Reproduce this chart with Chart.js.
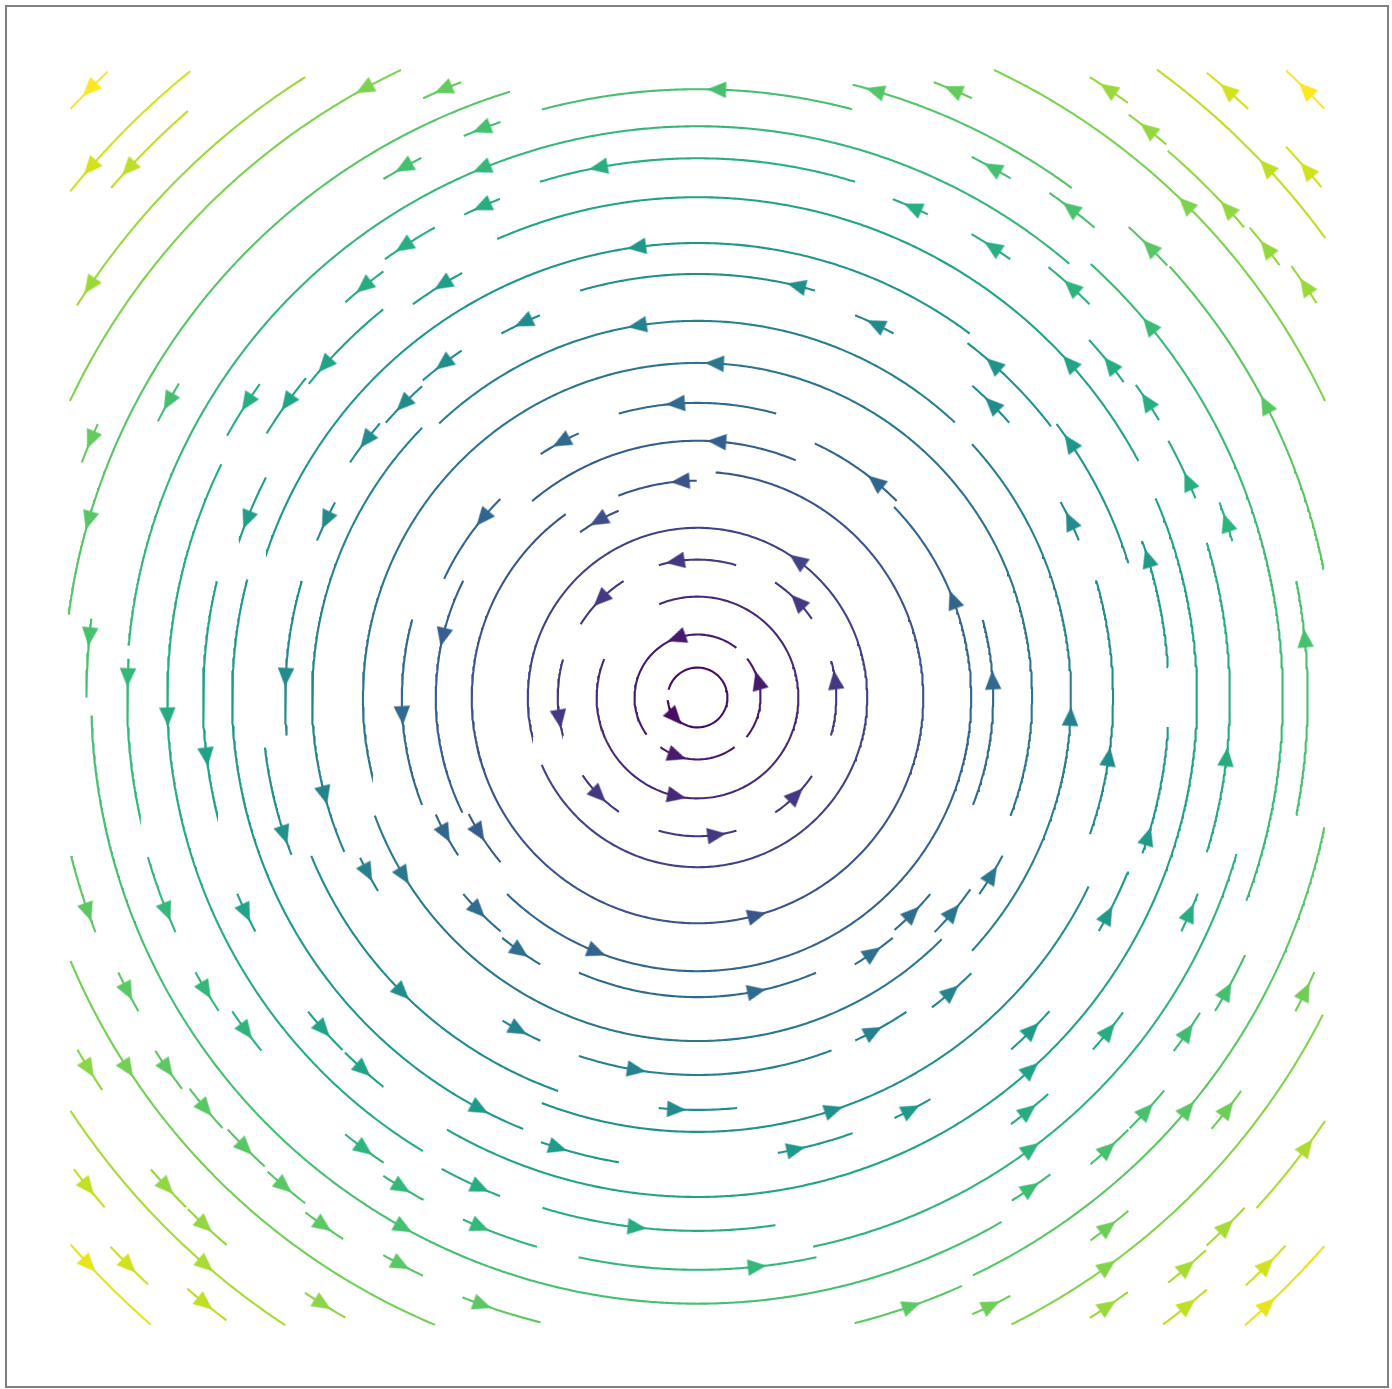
<!DOCTYPE html>
<html>
<head>
<meta charset="utf-8">
<script src="https://cdn.jsdelivr.net/npm/chart.js@4.4.1/dist/chart.umd.min.js"></script>
<style>
  html, body { margin: 0; padding: 0; background: #ffffff; }
  #wrap { width: 1392px; height: 1389px; }
</style>
</head>
<body>
<div id="wrap"><canvas id="stream" width="1392" height="1389"></canvas></div>
<script>
// Streamlines of the rotating field u = -y, v = x on the square [-3, 3] x [-3, 3].
// Every streamline is a circular arc around the origin: its radius, the angles
// (degrees, counter-clockwise from +x) where it starts and ends, and the angle
// where its arrowhead sits. Colour follows the speed, which equals the radius.
const radius = [
  0.143, 0.301, 0.296, 0.301, 0.482, 0.659, 0.659, 0.668, 0.663, 0.663,
  0.663, 0.663, 0.663, 0.811, 0.969, 1.036, 1.079, 1.227, 1.251, 1.227,
  1.308, 1.308, 1.337, 1.337, 1.370, 1.384, 1.408, 1.413, 1.413, 1.432,
  1.461, 1.456, 1.480, 1.480, 1.594, 1.599, 1.642, 1.642, 1.785, 1.785,
  1.800, 1.804, 1.804, 1.804, 1.842, 1.857, 1.967, 1.971, 1.971, 1.971,
  1.976, 1.976, 1.986, 1.986, 1.986, 1.995, 2.005, 2.005, 2.024, 2.076,
  2.081, 2.129, 2.157, 2.172, 2.210, 2.219, 2.219, 2.224, 2.253, 2.253,
  2.253, 2.253, 2.315, 2.320, 2.363, 2.387, 2.387, 2.391, 2.391, 2.391,
  2.391, 2.415, 2.530, 2.530, 2.530, 2.534, 2.534, 2.544, 2.549, 2.558,
  2.563, 2.563, 2.563, 2.568, 2.573, 2.573, 2.573, 2.573, 2.577, 2.654,
  2.663, 2.682, 2.682, 2.682, 2.725, 2.730, 2.735, 2.735, 2.735, 2.735,
  2.735, 2.797, 2.835, 2.835, 2.892, 2.897, 2.897, 2.897, 2.897, 2.907,
  2.907, 2.916, 2.916, 2.916, 2.921, 2.940, 3.031, 3.021, 3.055, 3.050,
  3.059, 3.059, 3.064, 3.093, 3.064, 3.050, 3.059, 3.093, 3.079, 3.083,
  3.088, 3.150, 3.150, 3.150, 3.203, 3.207, 3.227, 3.227, 3.250, 3.317,
  3.317, 3.351, 3.408, 3.408, 3.446, 3.451, 3.451, 3.465, 3.465, 3.508,
  3.508, 3.508, 3.508, 3.575, 3.589, 3.589, 3.618, 3.713, 3.718, 3.737,
  3.732, 3.732, 3.852, 3.842, 3.852, 3.852, 3.842, 3.976, 3.981, 4.110,
  4.110
];
const startAngle = [
  185, 51.9, 233.2, 321.1, 157.7, 73.7, 122.4, 164.2, 214.1, 253.7,
  304.1, 344.1, 34.5, 203.4, 112.9, 90.2, 125.7, 67.5, 153.5, 207.0,
  225.9, 316.1, 44.6, 134.8, 204.1, 114.2, 74.5, 164.7, 338.7, 246.7,
  220.0, 310.3, 230.9, 300.5, 315.3, 339.3, 200.1, 325.1, 317.3, 205.4,
  46.9, 251.7, 238.9, 294.7, 135.6, 307.1, 151.7, 163.6, 22.4, 264.6,
  112.4, 61.7, 131.5, 41.4, 340.8, 202.3, 124.2, 139.2, 73.9, 249.0,
  186.6, 37.5, 17.3, 53.2, 280.0, 295.1, 329.8, 165.3, 250.6, 311.7,
  3.7, 340.7, 153.0, 119.0, 166.4, 129.0, 239.9, 28.2, 218.9, 225.2,
  203.1, 140.8, 126.4, 306.3, 318.3, 153.9, 36.5, 343.1, 253.1, 64.5,
  111.6, 241.5, 21.8, 334.2, 119.2, 144.4, 54.5, 31.0, 73.0, 45.1,
  16.3, 214.0, 231.1, 281.9, 176.1, 49.4, 196.2, 208.7, 236.7, 245.8,
  258.0, 339.7, 302.0, 323.4, 328.8, 181.7, 117.1, 148.8, 58.9, 75.3,
  108.9, 348.9, 310.1, 315.1, 172.6, 49.8, 107.2, 53.7, 11.6, 42.6,
  295.5, 240.6, 205.4, 213.1, 217.6, 222.6, 227.8, 232.7, 248.6, 284.1,
  194.2, 111.0, 155.5, 65.4, 305.9, 320.0, 294.0, 332.3, 202.8, 115.3,
  25.3, 296.6, 209.6, 236.6, 40.7, 220.8, 225.1, 49.7, 36.6, 122.3,
  54.1, 32.5, 302.3, 312.9, 308.8, 213.4, 317.6, 131.0, 36.2, 217.1,
  229.2, 306.6, 129.0, 223.1, 46.9, 39.3, 313.0, 221.1, 311.1, 133.3,
  43.2
];
const endAngle = [
  525, 216.1, 306.8, 398.0, 472.3, 106.3, 147.9, 195.9, 235.5, 286.3,
  325.6, 375.3, 56.0, 553.5, 125.4, 111.4, 445.4, 130.1, 206.1, 219.9,
  316.1, 404.1, 65.2, 154.9, 213.4, 122.8, 105.5, 201.3, 375.2, 293.3,
  229.9, 319.8, 239.5, 309.1, 324.9, 553.7, 315.3, 332.6, 402.7, 211.2,
  133.3, 290.8, 245.4, 303.6, 203.6, 314.8, 157.6, 185.3, 28.3, 275.5,
  118.3, 67.6, 138.6, 48.6, 376.4, 250.5, 130.9, 145.9, 106.1, 334.2,
  201.2, 52.7, 37.3, 161.3, 289.6, 300.1, 338.0, 248.0, 260.4, 318.3,
  19.4, 356.4, 161.1, 125.9, 193.6, 141.1, 383.5, 113.6, 224.8, 231.1,
  207.9, 148.5, 131.7, 311.5, 323.5, 238.8, 42.4, 376.9, 278.4, 68.6,
  115.8, 248.4, 28.6, 338.6, 125.5, 150.9, 59.4, 35.5, 107.0, 50.8,
  20.5, 219.0, 236.0, 343.8, 192.0, 174.8, 204.2, 213.2, 241.4, 253.7,
  282.0, 407.8, 306.5, 327.9, 334.8, 300.1, 121.2, 152.9, 63.1, 104.8,
  112.6, 371.0, 314.9, 319.9, 180.0, 55.1, 172.5, 75.8, 42.4, 47.5,
  348.3, 244.6, 209.3, 217.2, 222.2, 227.3, 232.2, 236.8, 255.9, 294.2,
  201.3, 114.6, 159.1, 69.0, 310.0, 324.1, 297.6, 336.0, 247.3, 154.7,
  64.7, 333.1, 213.4, 240.4, 49.3, 224.9, 229.3, 53.5, 40.4, 147.7,
  57.7, 36.0, 305.9, 317.0, 312.6, 236.7, 326.0, 139.0, 53.8, 220.7,
  232.9, 310.7, 141.1, 226.9, 50.8, 43.1, 317.0, 228.9, 318.8, 136.8,
  46.8
];
const arrowAngle = [
  222, 109.5, 250.9, 375.8, 258.1, 99.3, 134.7, 188.9, 224.8, 278.0,
  315.3, 367.3, 43.8, 414.0, 119.3, 94.6, 285.3, 85.7, 166.7, 211.8,
  248.4, 381.0, 50.5, 140.2, 208.4, 118.1, 94.3, 183.5, 363.4, 281.4,
  224.2, 314.9, 235.1, 304.5, 320.0, 447.1, 211.3, 329.0, 357.1, 208.0,
  99.2, 260.7, 241.7, 297.8, 194.7, 310.8, 154.5, 177.2, 25.4, 267.1,
  114.9, 64.5, 135.1, 44.9, 351.8, 225.0, 127.3, 142.2, 76.5, 288.3,
  198.4, 48.4, 34.4, 97.7, 282.3, 297.4, 332.1, 242.1, 252.8, 315.2,
  17.2, 342.9, 158.5, 121.7, 186.9, 138.3, 311.9, 42.0, 221.6, 228.1,
  205.5, 144.3, 129.1, 308.7, 321.0, 182.1, 38.9, 353.6, 263.5, 66.3,
  113.7, 246.1, 23.8, 336.4, 123.1, 146.8, 56.8, 33.4, 100.6, 47.7,
  18.3, 216.5, 233.6, 306.5, 178.0, 112.2, 202.0, 210.8, 238.9, 247.7,
  276.0, 399.5, 304.2, 325.7, 331.0, 241.0, 119.0, 150.8, 60.9, 88.2,
  110.8, 365.6, 312.3, 317.4, 174.3, 52.7, 163.8, 73.7, 27.3, 44.9,
  320.0, 242.4, 207.3, 215.0, 219.9, 224.9, 229.8, 234.7, 250.5, 289.4,
  199.4, 112.7, 157.0, 67.2, 307.8, 322.2, 295.8, 334.2, 213.1, 118.7,
  45.3, 305.8, 211.4, 238.3, 42.7, 222.7, 227.0, 51.6, 38.3, 145.9,
  56.0, 34.1, 304.0, 315.0, 310.7, 229.1, 323.6, 137.1, 43.0, 218.8,
  230.9, 308.9, 138.9, 225.0, 48.9, 40.9, 315.1, 223.0, 313.2, 135.0,
  45.0
];

const axisLimit = 3.3;   // view box around the [-3, 3] grid
const speedMax = 4.12;   // fastest speed reached by the drawn streamlines (top of the colour scale)

// viridis colour map, 21 evenly spaced stops
const VIRIDIS = ['#440154', '#471365', '#482475', '#463480', '#414487', '#3b528b', '#355f8d',
  '#2f6c8e', '#2a788e', '#25848e', '#21908c', '#1e9c89', '#22a884', '#2fb47c', '#43bf71',
  '#5dc863', '#7ad151', '#9ad93c', '#bbdf27', '#dce319', '#fde725'];
function hexRgb(h) {
  return [parseInt(h.slice(1, 3), 16), parseInt(h.slice(3, 5), 16), parseInt(h.slice(5, 7), 16)];
}
function viridis(t) {
  t = Math.min(1, Math.max(0, t));
  const f = t * (VIRIDIS.length - 1);
  const i = Math.min(VIRIDIS.length - 2, Math.floor(f));
  const u = f - i;
  const a = hexRgb(VIRIDIS[i]), b = hexRgb(VIRIDIS[i + 1]);
  const c = a.map((v, k) => Math.round(v + (b[k] - v) * u));
  return `rgb(${c[0]},${c[1]},${c[2]})`;
}
const colorFor = r => viridis(r / speedMax);

// polyline along one streamline arc
function arcPoints(r, a0, a1) {
  const n = Math.max(2, Math.ceil((a1 - a0) * Math.PI / 180 * r / 0.012));
  const pts = [];
  for (let k = 0; k <= n; k++) {
    const a = (a0 + (a1 - a0) * k / n) * Math.PI / 180;
    pts.push({ x: r * Math.cos(a), y: r * Math.sin(a) });
  }
  return pts;
}

// filled triangular arrowhead, pointing along +x before rotation
const headCache = {};
function arrowHead(color) {
  if (!headCache[color]) {
    const c = document.createElement('canvas');
    c.width = 24; c.height = 24;
    const g = c.getContext('2d');
    g.fillStyle = color;
    g.beginPath();
    g.moveTo(21.5, 12);
    g.lineTo(2.5, 3.8);
    g.lineTo(2.5, 20.2);
    g.closePath();
    g.fill();
    headCache[color] = c;
  }
  return headCache[color];
}

const lineSets = radius.map((r, i) => ({
  data: arcPoints(r, startAngle[i], endAngle[i]),
  showLine: true,
  borderColor: colorFor(r),
  borderWidth: 2.1,
  pointRadius: 0,
  pointHoverRadius: 0,
  tension: 0,
  fill: false,
  order: 1
}));

const arrowSet = {
  data: radius.map((r, i) => {
    const a = arrowAngle[i] * Math.PI / 180;
    return { x: r * Math.cos(a), y: r * Math.sin(a) };
  }),
  showLine: false,
  pointRadius: 8,
  pointHoverRadius: 8,
  pointStyle: ctx => arrowHead(colorFor(radius[ctx.dataIndex])),
  rotation: ctx => {
    // counter-clockwise flow: tangent (-sin a, cos a), with screen y pointing down
    const a = arrowAngle[ctx.dataIndex] * Math.PI / 180;
    return Math.atan2(-Math.cos(a), -Math.sin(a)) * 180 / Math.PI;
  },
  order: 0
};

// grey frame round the plotting area
const framePlugin = {
  id: 'frame',
  afterDraw(chart) {
    const { ctx, chartArea: a } = chart;
    ctx.save();
    ctx.strokeStyle = '#808080';
    ctx.lineWidth = 2;
    ctx.strokeRect(a.left - 1, a.top - 1, a.right - a.left + 1, a.bottom - a.top);
    ctx.restore();
  }
};

new Chart(document.getElementById('stream'), {
  type: 'scatter',
  data: { datasets: [...lineSets, arrowSet] },
  options: {
    responsive: false,
    animation: false,
    devicePixelRatio: 1,
    events: [],
    layout: { autoPadding: false, padding: { left: 7, right: 4, top: 7, bottom: 1 } },
    plugins: { legend: { display: false }, tooltip: { enabled: false } },
    scales: {
      x: { type: 'linear', min: -axisLimit, max: axisLimit, display: false },
      y: { type: 'linear', min: -axisLimit, max: axisLimit, display: false }
    }
  },
  plugins: [framePlugin]
});
</script>
</body>
</html>
